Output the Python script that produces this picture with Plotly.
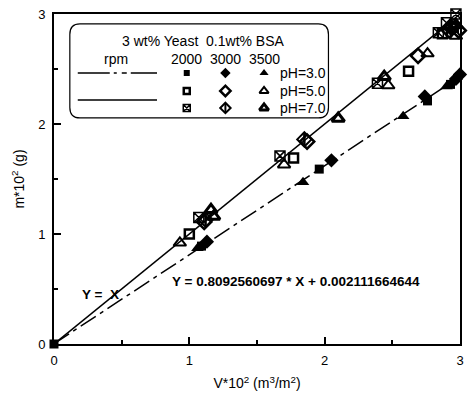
import plotly.graph_objects as go

# ---------------- data ----------------
# pH = 3.0 (filled markers)
ph3_2000_x = [0.0, 1.09, 1.96, 2.76, 2.93]
ph3_2000_y = [0.0, 0.89, 1.59, 2.21, 2.36]
ph3_3000_x = [1.13, 2.05, 2.74, 2.97, 3.00]
ph3_3000_y = [0.93, 1.67, 2.25, 2.41, 2.45]
ph3_3500_x = [1.06, 1.84, 2.58, 2.90]
ph3_3500_y = [0.87, 1.47, 2.07, 2.34]

# pH = 5.0 (open markers)
ph5_2000_x = [1.00, 1.77, 2.62, 2.87, 2.95]
ph5_2000_y = [1.00, 1.69, 2.48, 2.82, 2.88]
ph5_3000_x = [1.11, 1.87, 2.69, 2.92, 2.99]
ph5_3000_y = [1.11, 1.84, 2.62, 2.85, 2.85]
ph5_3500_x = [0.93, 1.70, 2.47, 2.76, 2.97]
ph5_3500_y = [0.92, 1.63, 2.35, 2.64, 2.80]

# pH = 7.0
ph7_2000_x = [1.07, 1.67, 2.39, 2.84, 2.90, 2.97]
ph7_2000_y = [1.15, 1.71, 2.37, 2.83, 2.92, 3.00]
ph7_3000_x = [1.12, 1.85, 2.93]
ph7_3000_y = [1.13, 1.86, 2.88]
ph7_3500_x = [1.16, 1.18, 2.10, 2.44, 2.97]
ph7_3500_y = [1.22, 1.16, 2.05, 2.43, 2.90]

# fitted lines
line_x = [0.0, 3.0]
slope_ph3 = 0.8092560697
intercept_ph3 = 0.002111664644
slope_ph57 = 1.0

x_ticks = [0, 1, 2, 3]
y_ticks = [0, 1, 2, 3]
rpm_labels = ["2000", "3000", "3500"]
ph_labels = ["pH=3.0", "pH=5.0", "pH=7.0"]

FONT = "Arial, Liberation Sans, sans-serif"
BLK = "black"
DASHDOT = "18px,5px,4px,5px"

fig = go.Figure()

# fit lines
fig.add_trace(go.Scatter(x=line_x, y=[slope_ph57 * v for v in line_x], mode="lines",
                         line=dict(color=BLK, width=1.5), showlegend=False, hoverinfo="skip"))
fig.add_trace(go.Scatter(x=line_x, y=[slope_ph3 * v + intercept_ph3 for v in line_x], mode="lines",
                         line=dict(color=BLK, width=1.5, dash=DASHDOT),
                         showlegend=False, hoverinfo="skip"))

series = [
    (ph3_2000_x, ph3_2000_y, dict(symbol="square", size=9, color=BLK)),
    (ph3_3000_x, ph3_3000_y, dict(symbol="diamond", size=11, color=BLK)),
    (ph3_3500_x, ph3_3500_y, dict(symbol="triangle-up", size=11, color=BLK)),
    (ph5_2000_x, ph5_2000_y, dict(symbol="square-open", size=9, color=BLK, line=dict(width=2.5))),
    (ph5_3000_x, ph5_3000_y, dict(symbol="diamond-open", size=11, color=BLK, line=dict(width=2.5))),
    (ph5_3500_x, ph5_3500_y, dict(symbol="triangle-up-open", size=11, color=BLK, line=dict(width=2))),
    (ph7_2000_x, ph7_2000_y, dict(symbol="square-x-open", size=10, color=BLK, line=dict(width=1.5))),
    (ph7_3000_x, ph7_3000_y, dict(symbol="diamond-open", size=11, color=BLK, line=dict(width=2))),
    (ph7_3500_x, ph7_3500_y, dict(symbol="triangle-up-open", size=11, color=BLK, line=dict(width=3))),
]
for xs, ys, mk in series:
    fig.add_trace(go.Scatter(x=xs, y=ys, mode="markers", marker=mk, cliponaxis=False,
                             showlegend=False, hoverinfo="skip"))
# vertical bar inside pH=7 / 3000 diamonds
fig.add_trace(go.Scatter(x=ph7_3000_x, y=ph7_3000_y, mode="markers", cliponaxis=False,
                         marker=dict(symbol="line-ns", size=9, color=BLK, line=dict(width=2.5, color=BLK)),
                         showlegend=False, hoverinfo="skip"))

# ---------------- legend box (own hidden axes) ----------------
leg_cols = [118, 157, 196]
leg_rows = [49, 67, 84]
for i, (xs, ys, mk) in enumerate(series):
    r, c = divmod(i, 3)
    m = dict(mk)
    m["size"] = max(6, mk["size"] - 3)
    fig.add_trace(go.Scatter(x=[leg_cols[c]], y=[leg_rows[r]], mode="markers", marker=m,
                             xaxis="x2", yaxis="y2", showlegend=False, hoverinfo="skip"))
    if i == 7:
        fig.add_trace(go.Scatter(x=[leg_cols[c]], y=[leg_rows[r]], mode="markers",
                                 marker=dict(symbol="line-ns", size=6, color=BLK, line=dict(width=2, color=BLK)),
                                 xaxis="x2", yaxis="y2", showlegend=False, hoverinfo="skip"))
fig.add_trace(go.Scatter(x=[8, 88], y=[49, 49], mode="lines", xaxis="x2", yaxis="y2",
                         line=dict(color=BLK, width=1.5, dash="32px,4px,3px,5px,5px,4px,40px"),
                         showlegend=False, hoverinfo="skip"))
fig.add_trace(go.Scatter(x=[8, 88], y=[76, 76], mode="lines", xaxis="x2", yaxis="y2",
                         line=dict(color=BLK, width=1.5), showlegend=False, hoverinfo="skip"))

annots = [
    dict(x=135, y=17, text="3 wt% Yeast  0.1wt% BSA", xanchor="center"),
    dict(x=47, y=35, text="rpm", xanchor="center"),
]
for c, lab in zip(leg_cols, rpm_labels):
    annots.append(dict(x=c, y=35, text=lab, xanchor="center"))
for r, lab in zip(leg_rows, ph_labels):
    annots.append(dict(x=210, y=r, text=lab, xanchor="left"))
for a in annots:
    a.update(xref="x2", yref="y2", yanchor="middle", showarrow=False,
             font=dict(family=FONT, size=14, color=BLK))
annots += [
    dict(x=0.34, y=0.45, xref="x", yref="y", text="<b>Y =&nbsp; X</b>", showarrow=False,
         font=dict(family=FONT, size=13.5, color=BLK), xanchor="center", yanchor="middle"),
    dict(x=1.79, y=0.57, xref="x", yref="y",
         text="<b>Y = 0.8092560697 * X + 0.002111664644</b>", showarrow=False,
         font=dict(family=FONT, size=13.5, color=BLK), xanchor="center", yanchor="middle"),
]

# rounded legend frame in paper coords
x0, x1, y0, y1 = 0.039, 0.676, 0.685, 0.970
rx, ry = 0.025, 0.032
path = (f"M {x0+rx},{y1} L {x1-rx},{y1} Q {x1},{y1} {x1},{y1-ry} L {x1},{y0+ry} "
        f"Q {x1},{y0} {x1-rx},{y0} L {x0+rx},{y0} Q {x0},{y0} {x0},{y0+ry} "
        f"L {x0},{y1-ry} Q {x0},{y1} {x0+rx},{y1} Z")

axis_common = dict(showgrid=False, zeroline=False, showline=True, linecolor=BLK, linewidth=2,
                   mirror=True, ticks="inside", ticklen=7, tickwidth=2, tickcolor=BLK,
                   tickfont=dict(family=FONT, size=13, color=BLK),
                   minor=dict(ticks="inside", ticklen=4, tickwidth=2, tickcolor=BLK, dtick=0.5))

fig.update_layout(
    width=471, height=396, margin=dict(l=54, r=7, t=14, b=52),
    paper_bgcolor="white", plot_bgcolor="white",
    xaxis=dict(range=[0, 3], tickvals=x_ticks, ticktext=[str(v) for v in x_ticks],
               ticklabelstandoff=3,
               title=dict(text="V*10<sup>2</sup> (m<sup>3</sup>/m<sup>2</sup>)",
                          font=dict(family=FONT, size=14, color=BLK), standoff=12),
               **axis_common),
    yaxis=dict(range=[0, 3], tickvals=y_ticks, ticktext=[str(v) for v in y_ticks],
               ticklabelstandoff=4,
               title=dict(text="m*10<sup>2</sup> (g)",
                          font=dict(family=FONT, size=14, color=BLK), standoff=10),
               **axis_common),
    xaxis2=dict(domain=[x0, x1], range=[0, 261], anchor="y2", visible=False, fixedrange=True),
    yaxis2=dict(domain=[y0, y1], range=[94, 0], anchor="x2", visible=False, fixedrange=True),
    annotations=annots,
    shapes=[dict(type="path", path=path, xref="paper", yref="paper",
                 line=dict(color=BLK, width=1.2), fillcolor="rgba(0,0,0,0)")],
    showlegend=False,
)

fig.write_html("out.html")
